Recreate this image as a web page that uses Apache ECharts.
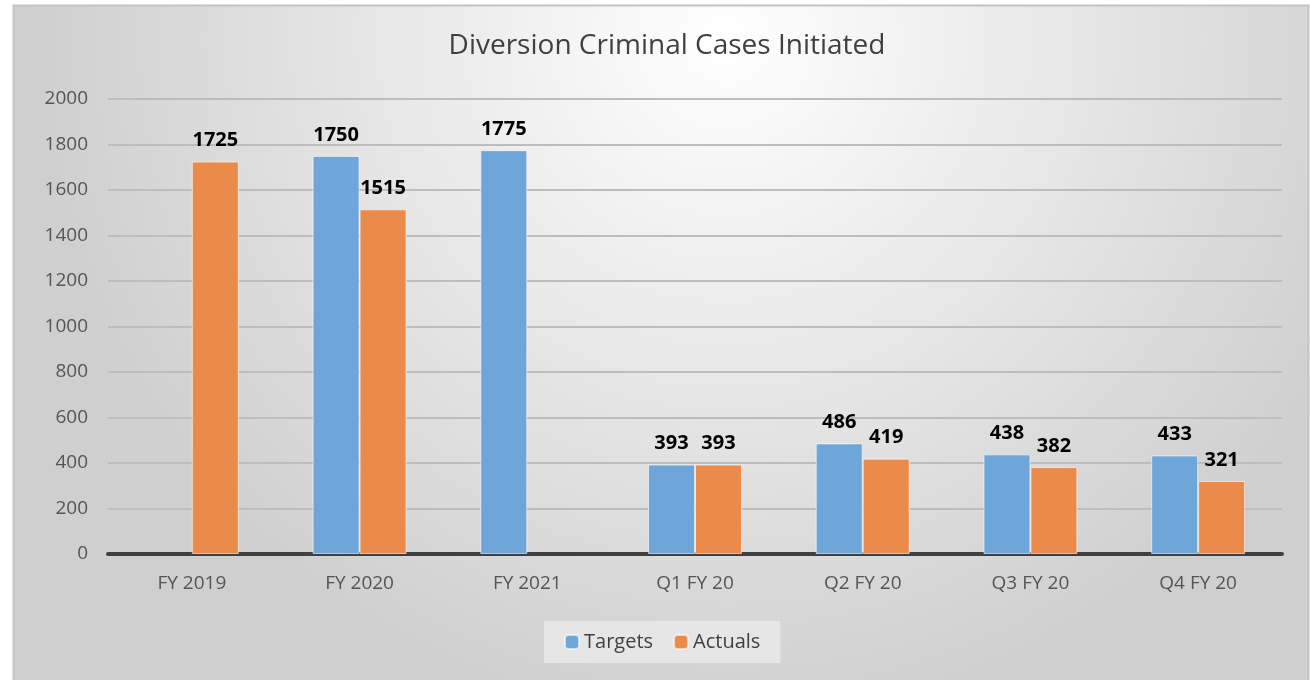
<!DOCTYPE html>
<html lang="en">
  <head>
    <meta charset="UTF-8" />
    <title>Diversion Criminal Cases Initiated</title>
    <script src="https://cdn.jsdelivr.net/npm/echarts/dist/echarts.min.js"></script>
    <style>
      html, body {
        margin: 0;
        padding: 0;
        background: #ffffff;
      }
      #chart {
        width: 1310px;
        height: 680px;
      }
    </style>
  </head>
  <body>
    <div id="chart"></div>

    <script>
      // data
      var categories = ["FY 2019", "FY 2020", "FY 2021", "Q1 FY 20", "Q2 FY 20", "Q3 FY 20", "Q4 FY 20"];
      var targets = [null, 1750, 1775, 393, 486, 438, 433];
      var actuals = [1725, 1515, null, 393, 419, 382, 321];
      var yTicks = [0, 200, 400, 600, 800, 1000, 1200, 1400, 1600, 1800, 2000];

      var font = "'Open Sans', sans-serif";
      var chart = echarts.init(document.getElementById("chart"));

      var labelStyle = {
        show: true,
        position: "top",
        distance: 11,
        color: "#000",
        fontWeight: "bold",
        fontSize: 20,
        fontFamily: font,
      };

      var option = {
        backgroundColor: "#ffffff",
        graphic: [
          {
            type: "rect",
            z: -10,
            shape: { x: 13.5, y: 5.5, width: 1295, height: 690 },
            style: {
              fill: {
                type: "radial",
                x: 0.55,
                y: 0.05,
                r: 1.0,
                colorStops: [
                  { offset: 0, color: "#ffffff" },
                  { offset: 1, color: "#cfcfcf" },
                ],
              },
              stroke: "#c4c4c4",
              lineWidth: 2,
            },
          },
        ],
        title: {
          text: "Diversion Criminal Cases Initiated",
          left: 662,
          textAlign: "center",
          top: 27,
          textStyle: {
            fontFamily: font,
            fontWeight: "normal",
            fontSize: 28,
            color: "#404040",
          },
        },
        legend: {
          data: ["Targets", "Actuals"],
          left: 544,
          top: 621,
          itemWidth: 14,
          itemHeight: 14,
          itemGap: 20,
          padding: [11, 20, 11, 20],
          backgroundColor: "#e6e6e6",
          textStyle: {
            fontFamily: font,
            fontSize: 20,
            color: "#404040",
          },
        },
        grid: {
          left: 108,
          right: 28,
          top: 99,
          bottom: 126,
        },
        xAxis: {
          type: "category",
          data: categories,
          axisLine: { lineStyle: { color: "#404040", width: 4 } },
          axisTick: { show: false },
          axisLabel: {
            margin: 20,
            fontFamily: font,
            fontSize: 19,
            color: "#555555",
          },
        },
        yAxis: {
          type: "value",
          min: yTicks[0],
          max: yTicks[yTicks.length - 1],
          interval: 200,
          axisLine: { show: false },
          axisTick: { show: false },
          splitLine: { lineStyle: { color: "#bdbdbd", width: 2 } },
          axisLabel: {
            margin: 20,
            fontFamily: font,
            fontSize: 19,
            color: "#555555",
            formatter: function (v) {
              return String(v);
            },
          },
        },
        series: [
          {
            name: "Targets",
            type: "bar",
            data: targets,
            barGap: "0%",
            barCategoryGap: "44%",
            itemStyle: {
              color: "#6fa6d9",
              borderColor: "rgba(255,255,255,0.6)",
              borderWidth: 1,
            },
            label: labelStyle,
          },
          {
            name: "Actuals",
            type: "bar",
            data: actuals,
            itemStyle: {
              color: "#eb8b4b",
              borderColor: "rgba(255,255,255,0.6)",
              borderWidth: 1,
            },
            label: labelStyle,
          },
        ],
      };

      chart.setOption(option);
    </script>
  </body>
</html>
